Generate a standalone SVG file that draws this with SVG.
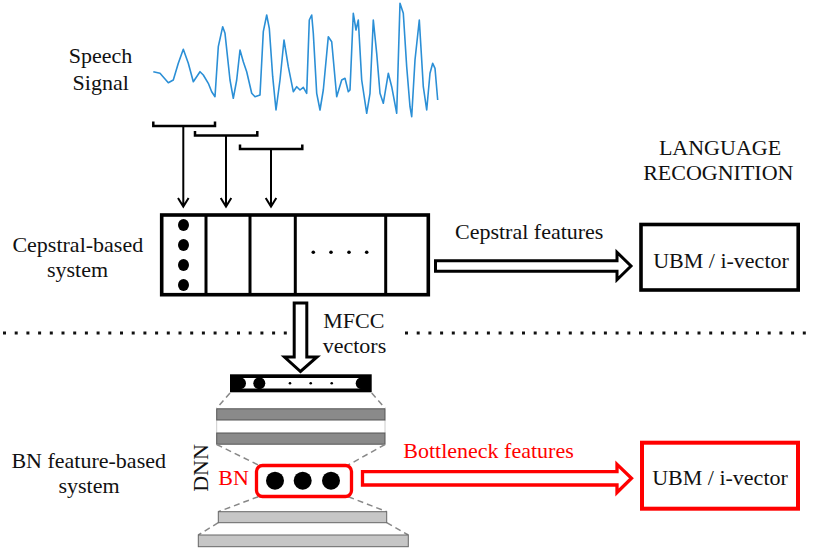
<svg xmlns="http://www.w3.org/2000/svg" width="813" height="549" viewBox="0 0 813 549">
<style>
text{font-family:"Liberation Serif","Times New Roman",serif;font-size:22px;fill:#111}
.red{fill:#f00}
.mid{text-anchor:middle}
.bk{fill:none;stroke:#000;stroke-width:2.5}
.stem{fill:none;stroke:#000;stroke-width:2}
.dash{fill:none;stroke:#888;stroke-width:1.5;stroke-dasharray:6 4}
.dark{fill:#8a8a8a;stroke:#555;stroke-width:1}
.light{fill:#c6c6c6;stroke:#666;stroke-width:1}
</style>
<rect width="813" height="549" fill="#fff"/>

<g id="speech-signal">
<text class="mid" x="100.5" y="63.3">Speech</text>
<text class="mid" x="100.7" y="90">Signal</text>
<polyline fill="none" stroke="#2b8fd6" stroke-width="1.6" stroke-linejoin="round" points="153.3,71.7 160,73.3 168.3,82.7 173.3,80 178.3,63.3 183.3,49.3 188.3,63.3 193.3,81.7 200,71.7 203.3,75 208.3,83.3 211.7,91.7 215,96.7 218.3,46.7 222.7,26.7 225,33.3 230,80 233.3,98.3 236.7,80 240,50 243.3,61.7 246.7,71.7 251.7,93.3 255,96.7 260,95 263.3,31.7 266.7,15 269.3,28.3 272.7,76.7 276,110 280,80 284,40 288.3,66.7 293.3,91.7 296.7,86.7 300,90 303.3,87.3 306.7,93.3 309.3,20 311.7,15 313.3,33.3 316.7,93.3 320,110 323.3,90 328.3,36.7 331.7,41.7 336.7,96.7 341.7,80 345,78.3 348.3,91.7 350,90 353.3,13.3 356,30 358.3,20 361.7,80 366.7,113.3 370,93.3 373.3,20 376.7,53.3 380,93.3 383.3,103.3 388.3,73.3 391.7,86.7 396.7,113.3 400,3.3 403.3,13.3 406.7,66.7 410,106.7 411.7,116.7 415,60 419.3,20 423.3,86.7 426.7,110 430,73.3 432.7,63.3 435,68.3 437.7,100"/>
</g>

<g id="language-recognition">
<text class="mid" x="720" y="155">LANGUAGE</text>
<text class="mid" x="718.3" y="180">RECOGNITION</text>
</g>

<g id="cepstral-label">
<text class="mid" x="77.8" y="251.7">Cepstral-based</text>
<text class="mid" x="77.5" y="276.7">system</text>
</g>

<g id="cepstral-frames">
<rect x="161.7" y="215" width="266.6" height="79.7" fill="#fff" stroke="#000" stroke-width="3.6"/>
<line x1="206" y1="215" x2="206" y2="294.7" stroke="#000" stroke-width="3"/>
<line x1="250" y1="215" x2="250" y2="294.7" stroke="#000" stroke-width="3"/>
<line x1="295.3" y1="215" x2="295.3" y2="294.7" stroke="#000" stroke-width="3"/>
<line x1="385.7" y1="215" x2="385.7" y2="294.7" stroke="#000" stroke-width="3"/>
<ellipse cx="183.5" cy="225" rx="5.5" ry="6"/>
<ellipse cx="183.5" cy="245" rx="5.5" ry="6"/>
<ellipse cx="183.5" cy="265" rx="5.5" ry="6"/>
<ellipse cx="183.5" cy="285" rx="5.5" ry="6"/>
<circle cx="313.3" cy="252.3" r="1.8"/>
<circle cx="331" cy="252.3" r="1.8"/>
<circle cx="349" cy="252.3" r="1.8"/>
<circle cx="366.7" cy="252.3" r="1.8"/>
</g>

<g id="ubm-top">
<rect x="641" y="224.5" width="157.2" height="65.5" fill="#fff" stroke="#000" stroke-width="3.6"/>
<text class="mid" x="721" y="268.3">UBM / i-vector</text>
</g>

<g id="dnn">
<text transform="translate(208,468) rotate(-90)" class="mid" x="0" y="0">DNN</text>
<rect x="230" y="374.3" width="141.7" height="18" fill="#000"/>
<rect x="236" y="378" width="130" height="10.5" rx="5" fill="#fff"/>
<circle cx="240" cy="383.3" r="6"/>
<circle cx="259.3" cy="383.3" r="6"/>
<circle cx="361.7" cy="383.3" r="6"/>
<circle cx="290" cy="383.3" r="1.3"/>
<circle cx="310.7" cy="383.3" r="1.3"/>
<circle cx="331.7" cy="383.3" r="1.3"/>
<line class="dash" x1="230" y1="393" x2="216.7" y2="408.3"/>
<line class="dash" x1="371.7" y1="393" x2="385" y2="408.3"/>
<line x1="216.7" y1="420" x2="216.7" y2="433" stroke="#ccc" stroke-width="1"/>
<line x1="385" y1="420" x2="385" y2="433" stroke="#ccc" stroke-width="1"/>
<rect class="dark" x="216.7" y="408.8" width="168.3" height="11.2"/>
<rect class="dark" x="216.7" y="433" width="168.3" height="11.2"/>
<line class="dash" x1="216.7" y1="444.5" x2="258.3" y2="465"/>
<line class="dash" x1="385" y1="444.5" x2="348.3" y2="465"/>
<line class="dash" x1="258.3" y1="496.7" x2="218.3" y2="511.7"/>
<line class="dash" x1="348.3" y1="496.7" x2="386.7" y2="511.7"/>
<rect class="light" x="218.3" y="511.7" width="168.4" height="11"/>
<line class="dash" x1="218.3" y1="522.7" x2="198.3" y2="535"/>
<line class="dash" x1="386.7" y1="522.7" x2="408.3" y2="535"/>
<rect class="light" x="198.3" y="535" width="210" height="11.7"/>
</g>

<g id="bn-layer">
<text class="red" x="218.3" y="485">BN</text>
<rect x="256.5" y="465.5" width="95" height="31" rx="6" fill="#fff" stroke="#f00" stroke-width="3.3"/>
<circle cx="275" cy="480.7" r="9"/>
<circle cx="302.7" cy="480.7" r="9"/>
<circle cx="331" cy="480.7" r="9"/>
</g>

<g id="bn-label">
<text class="mid" x="88.7" y="468.3">BN feature-based</text>
<text class="mid" x="89" y="493.3">system</text>
</g>

<g id="ubm-bottom">
<rect x="642" y="442.7" width="156" height="66" fill="#fff" stroke="#f00" stroke-width="4"/>
<text class="mid" x="720" y="485">UBM / i-vector</text>
</g>

<g id="separator">
<line x1="3" y1="333" x2="290" y2="333" stroke="#111" stroke-width="3" stroke-dasharray="3 8.7"/>
<line x1="405" y1="333" x2="813" y2="333" stroke="#111" stroke-width="3" stroke-dasharray="3 8.7"/>
</g>

<g id="connectors">
<path class="bk" d="M153.3,121.5 V126 H215 V121.5"/>
<path class="bk" d="M195,131 V135.5 H257.3 V131"/>
<path class="bk" d="M240,144.5 V149 H302.3 V144.5"/>
<path class="stem" d="M183.3,126 V206.5 M178,198 L183.3,206.5 L188.6,198"/>
<path class="stem" d="M226,135.5 V206.5 M220.7,198 L226,206.5 L231.3,198"/>
<path class="stem" d="M271,149 V206.5 M265.7,198 L271,206.5 L276.3,198"/>
<polygon points="435.5,260.8 617,260.8 617,252.3 631,266 617,279.7 617,271.2 435.5,271.2" fill="#fff" stroke="#000" stroke-width="3" stroke-linejoin="miter"/>
<polygon points="294.2,303 306.8,303 306.8,357 317,357 300.5,371.5 284.5,357 294.2,357" fill="#fff" stroke="#000" stroke-width="3"/>
<text x="323.3" y="328.3">MFCC</text>
<text x="322.7" y="353.3">vectors</text>
<polygon points="362.5,471.7 617,471.7 617,464.3 631.5,478.3 617,492.5 617,485 362.5,485" fill="#fff" stroke="#f00" stroke-width="3.3"/>
<text class="red" x="403.3" y="458.3">Bottleneck features</text>
<text x="455" y="239.3">Cepstral features</text>
</g>
</svg>
